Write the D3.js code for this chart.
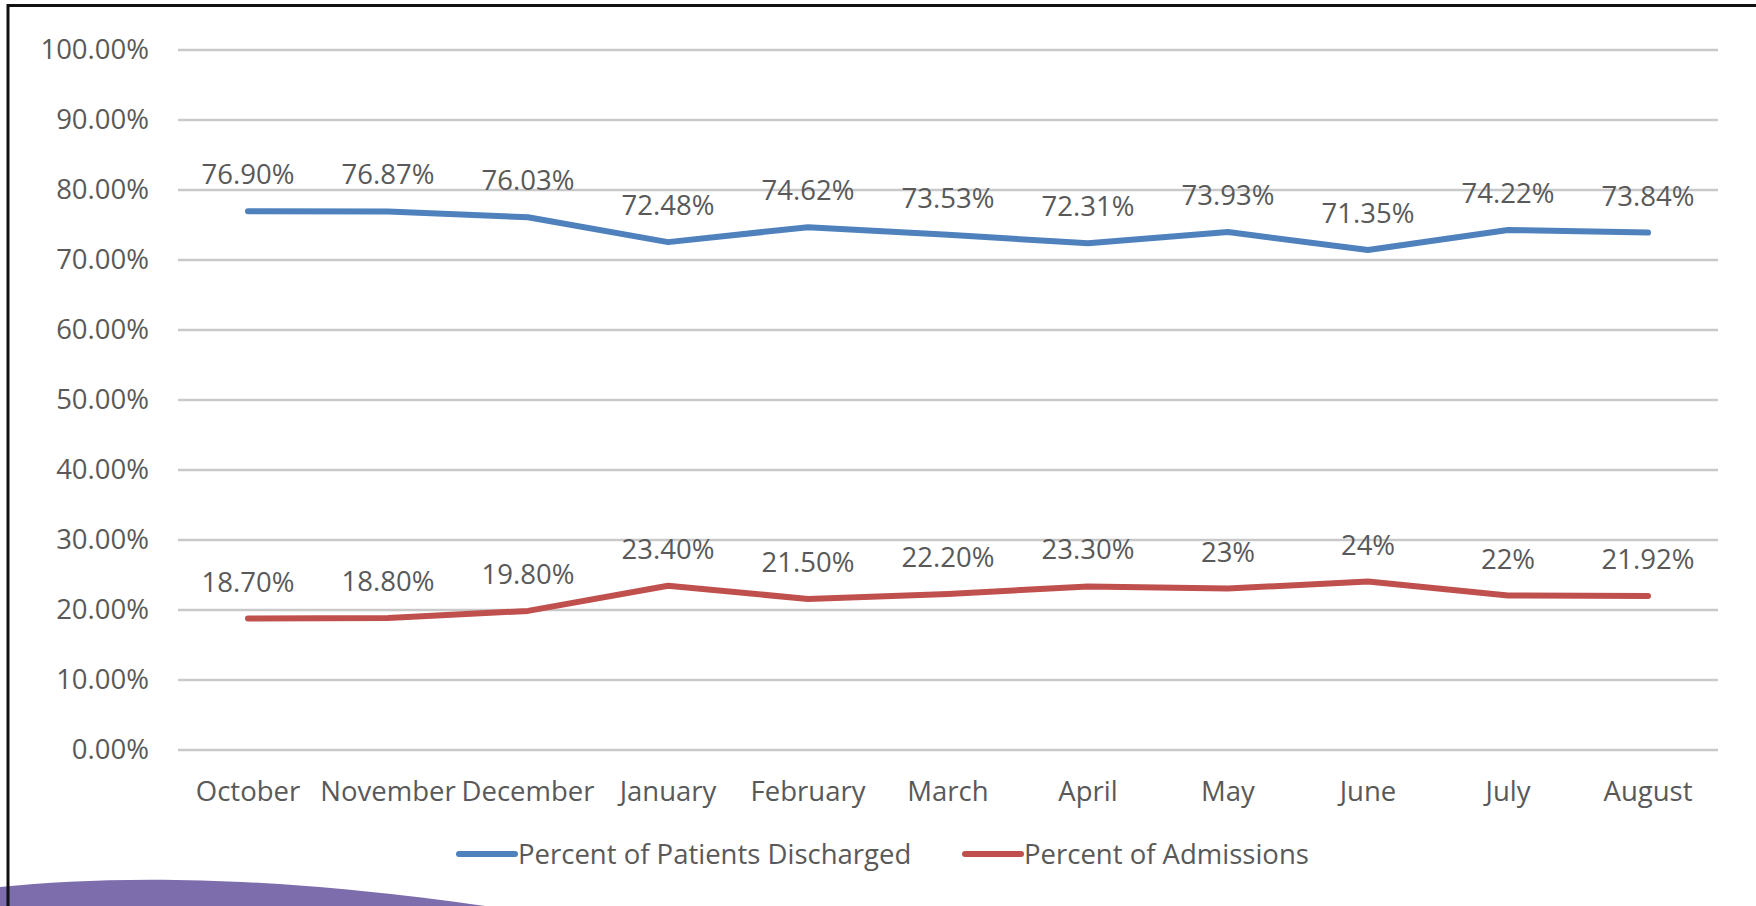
<!DOCTYPE html>
<html>
<head>
<meta charset="utf-8">
<script src="https://cdn.jsdelivr.net/npm/d3@7"></script>
<style>
  body { margin: 0; background: #ffffff; }
  svg { display: block; font-family: "Open Sans", sans-serif; }
</style>
</head>
<body>
<script>
// chart data
var months = ["October", "November", "December", "January", "February", "March",
              "April", "May", "June", "July", "August"];
var discharged = [76.90, 76.87, 76.03, 72.48, 74.62, 73.53, 72.31, 73.93, 71.35, 74.22, 73.84];
var admissions = [18.70, 18.80, 19.80, 23.40, 21.50, 22.20, 23.30, 23, 24, 22, 21.92];
var dischargedLabels = ["76.90%", "76.87%", "76.03%", "72.48%", "74.62%", "73.53%",
                        "72.31%", "73.93%", "71.35%", "74.22%", "73.84%"];
var admissionLabels = ["18.70%", "18.80%", "19.80%", "23.40%", "21.50%", "22.20%",
                       "23.30%", "23%", "24%", "22%", "21.92%"];
var yTicks = [0, 10, 20, 30, 40, 50, 60, 70, 80, 90, 100];
var seriesNames = ["Percent of Patients Discharged", "Percent of Admissions"];

var blue = "#4f81bd", red = "#c0504d", textColor = "#595959";
var fontSize = "27.5px";

var svg = d3.select("body").append("svg")
    .attr("width", 1756)
    .attr("height", 906);

svg.append("rect").attr("width", 1756).attr("height", 906).attr("fill", "#ffffff");

var plotLeft = 178, plotRight = 1718, plotTop = 49.5, plotBottom = 749.5;

var x = d3.scaleBand().domain(months).range([plotLeft, plotRight]).padding(0);
var y = d3.scaleLinear().domain([0, 100]).range([plotBottom, plotTop]);
var cx = function(d, i){ return x(months[i]) + x.bandwidth() / 2; };

// gridlines + y labels
var yAxis = svg.append("g")
    .attr("transform", "translate(" + plotLeft + ",0)")
    .call(d3.axisLeft(y)
        .tickValues(yTicks)
        .tickSize(-(plotRight - plotLeft))
        .tickPadding(29)
        .tickFormat(function(d){ return d.toFixed(2) + "%"; }));
yAxis.select(".domain").remove();
yAxis.selectAll("line").attr("stroke", "#c9c9c9").attr("stroke-width", 2.5);
yAxis.selectAll("text")
    .attr("fill", textColor)
    .style("font-size", fontSize)
    .style("font-family", "'Open Sans', sans-serif");

// x labels
var xAxis = svg.append("g")
    .attr("transform", "translate(0," + plotBottom + ")")
    .call(d3.axisBottom(x).tickSize(0).tickPadding(38));
xAxis.select(".domain").remove();
xAxis.selectAll("text")
    .attr("fill", textColor)
    .attr("dy", "0.5em")
    .style("font-size", fontSize)
    .style("font-family", "'Open Sans', sans-serif");

var line = d3.line()
    .x(cx)
    .y(function(d){ return y(d); });

function drawSeries(values, labels, color) {
    svg.append("path")
        .datum(values)
        .attr("d", line)
        .attr("fill", "none")
        .attr("stroke", color)
        .attr("stroke-width", 6)
        .attr("stroke-linecap", "round")
        .attr("stroke-linejoin", "round");

    svg.selectAll(null)
        .data(values)
        .enter()
        .append("text")
        .attr("x", cx)
        .attr("y", function(d){ return y(d) - 27; })
        .attr("text-anchor", "middle")
        .attr("fill", textColor)
        .style("font-size", fontSize)
        .text(function(d, i){ return labels[i]; });
}

drawSeries(discharged, dischargedLabels, blue);
drawSeries(admissions, admissionLabels, red);

// legend
var legendItems = [
    {name: seriesNames[0], color: blue, x: 457},
    {name: seriesNames[1], color: red, x: 963}
];
var legend = svg.selectAll(".legend")
    .data(legendItems)
    .enter()
    .append("g")
    .attr("class", "legend")
    .attr("transform", function(d){ return "translate(" + d.x + ",854)"; });
legend.append("line")
    .attr("x1", 2).attr("x2", 58)
    .attr("stroke", function(d){ return d.color; })
    .attr("stroke-width", 6)
    .attr("stroke-linecap", "round");
legend.append("text")
    .attr("x", 61)
    .attr("dy", "0.35em")
    .attr("fill", textColor)
    .style("font-size", fontSize)
    .text(function(d){ return d.name; });

// purple swoosh bottom left
svg.append("path")
    .attr("d", "M0,906 L0,887 C110,876 260,874 485,906 Z")
    .attr("fill", "#7d6dad");

// frame
svg.append("path")
    .attr("d", "M8,906 L8,5.5 L1756,5.5")
    .attr("fill", "none")
    .attr("stroke", "#111")
    .attr("stroke-width", 3);
</script>
</body>
</html>
